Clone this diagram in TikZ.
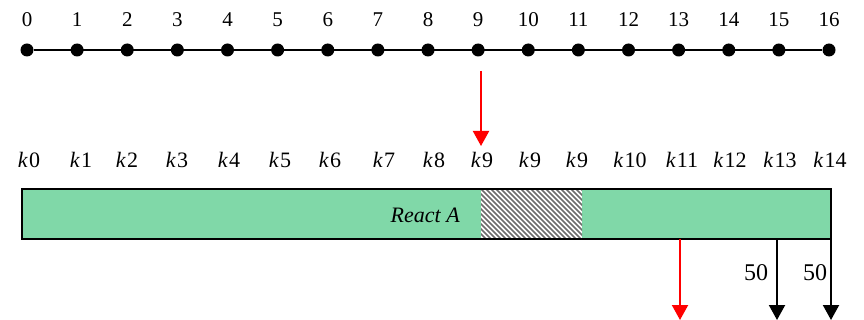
\documentclass[tikz,border=0pt]{standalone}
\usepackage{fontspec}
\setmainfont{Liberation Serif}
\usetikzlibrary{arrows.meta}
\begin{document}
\begin{tikzpicture}[x=1pt,y=-1pt,
  lbl/.style={font=\fontsize{21}{25}\selectfont, inner sep=0pt},
  klbl/.style={font=\fontsize{22}{26}\selectfont, inner sep=0pt},
  big/.style={font=\fontsize{24}{28}\selectfont, inner sep=0pt},
  dot/.style={circle, fill=black, minimum size=13pt, inner sep=0pt},
  tline/.style={line width=2pt},
  darr/.style={line width=2pt, -{Triangle[width=16pt,length=15pt]}},
  bar/.style={line width=2.6pt}]
\useasboundingbox (0,0) rectangle (864,320);
% time axis with numbered points
\foreach \i in {0,...,16}{
  \node[dot] (d\i) at ({27+50.125*\i},50) {};
  \node[lbl] (n\i) at ({27+50.125*\i},20) {\i};
}
\draw[tline] (d0) -- (d16);
% key labels above the bar
\foreach \t/\x [count=\j] in {0/29,1/81,2/127,3/177,4/229,5/280,6/330,7/384,8/434,9/482,9/530,9/577,10/630,11/682,12/730,13/780,14/830}{
  \node[klbl] (k\j) at (\x,160) {\textit{k}\kern1pt\t};
}
% the bar with its hatched section
\fill[fill={rgb,255:red,128;green,216;blue,168}] (22,189) rectangle (831,239);
\begin{scope}
  \clip (481,189) rectangle (582,239);
  \fill[white] (481,189) rectangle (582,239);
  \foreach \s in {-60,-55,...,110}{
    \draw[gray!85!black, line width=1.6pt] ({481+\s},189) -- ({481+\s+50},239);
  }
\end{scope}
\node[draw, bar, minimum width=809pt, minimum height=50pt, inner sep=0pt] (bar) at (426.5,214) {};
\node[klbl, anchor=east] (ra) at (460,215) {\textit{React A}};
% arrows
\coordinate (r1s) at (481,71);
\coordinate (r1e) at (481,146);
\draw[darr, red] (r1s) -- (r1e);
\coordinate (r2s) at (680,239);
\coordinate (r2e) at (680,320);
\draw[darr, red] (r2s) -- (r2e);
\coordinate (b1s) at (777,239);
\coordinate (b1e) at (777,320);
\draw[darr] (b1s) -- (b1e);
\coordinate (b2s) at (831,239);
\coordinate (b2e) at (831,320);
\draw[darr] (b2s) -- (b2e);
\node[big] (f1) at (756,273) {50};
\node[big] (f2) at (815,273) {50};
\end{tikzpicture}
\end{document}
